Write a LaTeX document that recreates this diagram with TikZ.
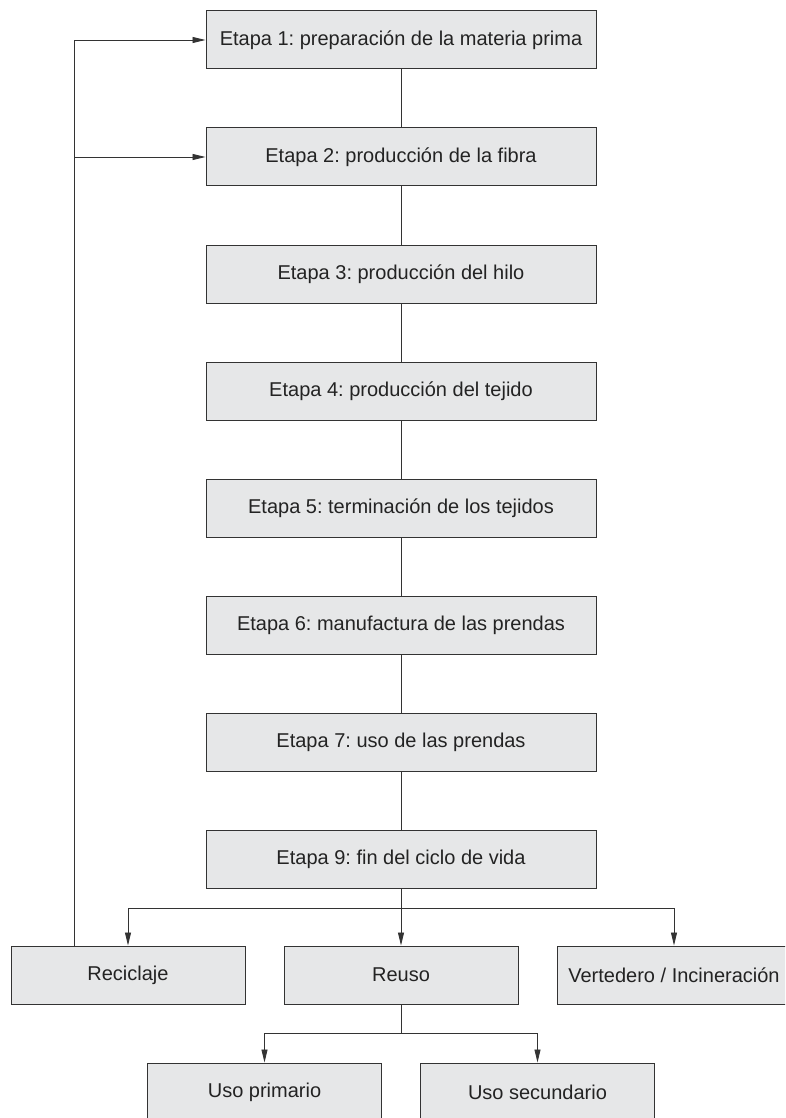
\documentclass[tikz,border=0pt]{standalone}
\usepackage{fontspec}
\setmainfont{Liberation Sans}
\usepackage{tikz}
\usetikzlibrary{arrows.meta,positioning}
\definecolor{boxGray}{RGB}{230,231,232}
\definecolor{lineGray}{RGB}{51,51,51}
\definecolor{textGray}{RGB}{35,35,35}
\frenchspacing

\begin{document}
\begin{tikzpicture}[
  x=1pt,y=1pt,
  node distance=58pt and 38pt,
  every node/.style={font=\fontsize{20}{24}\selectfont,align=center,text=textGray},
  box/.style={draw=lineGray,line width=1pt,fill=boxGray,minimum width=390pt,minimum height=58pt,inner sep=0pt},
  smallbox/.style={box,minimum width=234pt},
  link/.style={draw=lineGray,line width=0.9pt},
  arr/.style={link,-{Triangle[length=13pt,width=6pt]}}]
\useasboundingbox (0,0) rectangle (785,-1118);
\clip (0,0) rectangle (785,-1118);
\node[box] (s1) at (401,-40) {Etapa 1: preparación de la materia prima};
\node[box,below=of s1] (s2) {Etapa 2: producción de la fibra};
\node[box,below=of s2] (s3) {Etapa 3: producción del hilo};
\node[box,below=of s3] (s4) {Etapa 4: producción del tejido};
\node[box,below=of s4] (s5) {Etapa 5: terminación de los tejidos};
\node[box,below=of s5] (s6) {Etapa 6: manufactura de las prendas};
\node[box,below=of s6] (s7) {Etapa 7: uso de las prendas};
\node[box,below=of s7] (s9) {Etapa 9: fin del ciclo de vida};
\node[smallbox,below=57pt of s9] (reu) {Reuso};
\node[smallbox,left=of reu] (rec) {Reciclaje};
\node[smallbox,right=of reu] (ver) {Vertedero / Incineración};
\node[smallbox,below=58pt of reu,xshift=-136.5pt] (prim) {Uso primario};
\node[smallbox,below=58pt of reu,xshift=136.5pt] (sec) {Uso secundario};
\coordinate[below=20pt of s9.south] (split);
\coordinate[below=29pt of reu.south] (split2);
\coordinate[left=54pt of rec.north] (back);
\draw[link] (s1) -- (s2);
\draw[link] (s2) -- (s3);
\draw[link] (s3) -- (s4);
\draw[link] (s4) -- (s5);
\draw[link] (s5) -- (s6);
\draw[link] (s6) -- (s7);
\draw[link] (s7) -- (s9);
\draw[arr] (s9) -- (reu);
\draw[arr] (split) -| (rec);
\draw[arr] (split) -| (ver);
\draw[link] (reu) -- (split2);
\draw[arr] (split2) -| (prim);
\draw[arr] (split2) -| (sec);
\draw[arr] (back) |- (s1);
\draw[arr] (back |- s2) -- (s2);
\end{tikzpicture}
\end{document}
